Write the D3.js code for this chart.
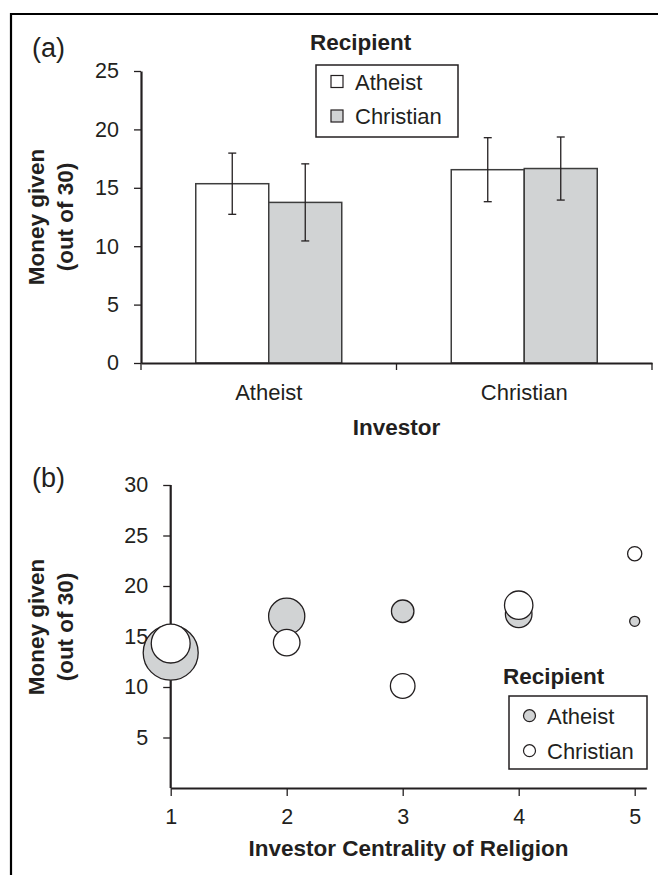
<!DOCTYPE html>
<html>
<head>
<meta charset="utf-8">
<script src="https://cdn.jsdelivr.net/npm/d3@7"></script>
<style>
  body { margin: 0; background: #fff; }
  text { font-family: "Liberation Sans", Arial, sans-serif; fill: #231f20; }
</style>
</head>
<body>
<div id="chart"></div>
<script>
// Panel (a): money given by investor / recipient religion
const investors = ['Atheist', 'Christian'];
const recipients = ['Atheist', 'Christian'];
const barMeans = [[15.35, 13.75], [16.55, 16.65]];   // [investor][recipient]
const barErrors = [[2.62, 3.30], [2.74, 2.70]];
const ticksA = [0, 5, 10, 15, 20, 25];

// Panel (b): money given by investor centrality of religion
const centrality = [1, 2, 3, 4, 5];
const givenAtheist = [13.4, 17.0, 17.5, 17.2, 16.5];
const givenChristian = [14.3, 14.4, 10.1, 18.1, 23.2];
const nAtheist = [30, 13, 5, 7, 1];
const nChristian = [15, 7, 6, 8, 2];
const ticksB = [5, 10, 15, 20, 25, 30];

const width = 658, height = 875;
const ink = '#231f20';
const grey = '#d1d3d4';
const fills = {Atheist: '#ffffff', Christian: grey};
const fs = 22, fsBold = 22.5, fsTick = 21.5;

const svg = d3.select('#chart').append('svg')
  .attr('width', width).attr('height', height);

// frame lines (top and left)
svg.append('path')
  .attr('d', `M${width},14H11V${height}`)
  .attr('fill', 'none').attr('stroke', '#000').attr('stroke-width', 2.2);

function styleAxis(g) {
  g.select('.domain').attr('stroke', ink).attr('stroke-width', 2.2);
  g.selectAll('.tick line').attr('stroke', ink).attr('stroke-width', 1.3);
  g.selectAll('.tick text').attr('font-size', fsTick).attr('fill', ink)
    .attr('font-family', '"Liberation Sans", Arial, sans-serif');
}

function yLabel(cy) {
  const t = svg.append('g').attr('font-weight', 'bold').attr('font-size', fsBold);
  t.append('text').attr('transform', `translate(44,${cy}) rotate(-90)`)
    .attr('text-anchor', 'middle').text('Money given');
  t.append('text').attr('transform', `translate(73,${cy}) rotate(-90)`)
    .attr('text-anchor', 'middle').text('(out of 30)');
}

// ---------- Panel (a) ----------
const xA = d3.scaleBand().domain(investors).range([141, 652]).padding(0);
const xIn = d3.scaleBand().domain(recipients).range([0, xA.bandwidth()])
  .paddingInner(0).paddingOuter(0.75);
const yA = d3.scaleLinear().domain([0, 25]).range([363, 71]);

svg.append('text').attr('x', 32).attr('y', 57).attr('font-size', 27).text('(a)');

const barData = [];
investors.forEach((inv, i) => recipients.forEach((rec, j) => {
  barData.push({inv, rec, mean: barMeans[i][j], se: barErrors[i][j]});
}));

svg.append('g').selectAll('rect')
  .data(barData).enter().append('rect')
  .attr('x', d => xA(d.inv) + xIn(d.rec))
  .attr('y', d => yA(d.mean))
  .attr('width', xIn.bandwidth())
  .attr('height', d => yA(0) - yA(d.mean))
  .attr('fill', d => fills[d.rec])
  .attr('stroke', '#3d3d3d').attr('stroke-width', 1.5);

const err = svg.append('g').attr('stroke', ink).attr('stroke-width', 1.3);
barData.forEach(d => {
  const cx = xA(d.inv) + xIn(d.rec) + xIn.bandwidth() / 2;
  err.append('line').attr('x1', cx).attr('x2', cx)
    .attr('y1', yA(d.mean - d.se)).attr('y2', yA(d.mean + d.se));
  [d.mean - d.se, d.mean + d.se].forEach(v => {
    err.append('line').attr('x1', cx - 4).attr('x2', cx + 4)
      .attr('y1', yA(v)).attr('y2', yA(v));
  });
});

svg.append('g').attr('transform', `translate(${xA.range()[0]},0)`)
  .call(d3.axisLeft(yA).tickValues(ticksA).tickSize(7).tickPadding(15).tickSizeOuter(0))
  .call(styleAxis);

const xAxisA = svg.append('g').attr('transform', `translate(0,${yA(0)})`)
  .call(d3.axisBottom(xA).tickSize(0).tickPadding(21).tickSizeOuter(0))
  .call(styleAxis);
xAxisA.selectAll('.tick text').attr('font-size', fs);
// category boundary ticks
const edges = [xA.range()[0]].concat(investors.map(d => xA(d) + xA.bandwidth()));
xAxisA.selectAll('.edge').data(edges).enter().append('line')
  .attr('x1', d => d).attr('x2', d => d).attr('y1', 0).attr('y2', 7)
  .attr('stroke', ink).attr('stroke-width', 1.3);

svg.append('text').attr('x', (xA.range()[0] + xA.range()[1]) / 2).attr('y', 435)
  .attr('text-anchor', 'middle').attr('font-weight', 'bold').attr('font-size', fsBold)
  .text('Investor');

yLabel((yA(0) + yA(25)) / 2);

// legend (a)
const legA = svg.append('g');
legA.append('text').attr('x', 310).attr('y', 50).attr('font-weight', 'bold')
  .attr('font-size', fsBold).text('Recipient');
legA.append('rect').attr('x', 316).attr('y', 65).attr('width', 142).attr('height', 72)
  .attr('fill', '#fff').attr('stroke', ink).attr('stroke-width', 1.5);
recipients.forEach((r, i) => {
  legA.append('rect').attr('x', 331).attr('y', 75.5 + i * 34.5).attr('width', 12).attr('height', 12)
    .attr('fill', fills[r]).attr('stroke', ink).attr('stroke-width', 1.2);
  legA.append('text').attr('x', 355).attr('y', 89.5 + i * 34.5).attr('font-size', fs).text(r);
});

// ---------- Panel (b) ----------
const xB = d3.scaleLinear().domain([1, 5.1]).range([170.7, 646.3]);
const yB = d3.scaleLinear().domain([0, 30]).range([788, 485]);
const rB = d3.scaleSqrt().domain([0, 30]).range([0, 27.5]);

svg.append('text').attr('x', 32).attr('y', 487).attr('font-size', 27).text('(b)');

svg.append('g').attr('transform', `translate(${xB(1)},0)`)
  .call(d3.axisLeft(yB).tickValues(ticksB).tickSize(7.5).tickPadding(15).tickSizeOuter(0))
  .call(styleAxis)
  .select('.domain').attr('d', `M0,${yB(30)}V${yB(0)}`);

svg.append('g').attr('transform', `translate(0,${yB(0)})`)
  .call(d3.axisBottom(xB).tickValues(centrality).tickFormat(d3.format('d'))
    .tickSize(8).tickPadding(13).tickSizeOuter(0))
  .call(styleAxis);

const bubbles = [];
centrality.forEach((c, i) => bubbles.push({c, v: givenAtheist[i], n: nAtheist[i], rec: 'Atheist'}));
centrality.forEach((c, i) => bubbles.push({c, v: givenChristian[i], n: nChristian[i], rec: 'Christian'}));

svg.append('g').selectAll('circle')
  .data(bubbles).enter().append('circle')
  .attr('cx', d => xB(d.c))
  .attr('cy', d => yB(d.v))
  .attr('r', d => rB(d.n))
  .attr('fill', d => d.rec === 'Atheist' ? grey : '#fff')
  .attr('stroke', ink).attr('stroke-width', 1.3);

svg.append('text').attr('x', (xB(1) + xB(5.1)) / 2).attr('y', 856)
  .attr('text-anchor', 'middle').attr('font-weight', 'bold').attr('font-size', fsBold)
  .text('Investor Centrality of Religion');

yLabel(627);

// legend (b)
const legB = svg.append('g');
legB.append('text').attr('x', 503).attr('y', 684).attr('font-weight', 'bold')
  .attr('font-size', fsBold).text('Recipient');
legB.append('rect').attr('x', 509).attr('y', 696).attr('width', 138).attr('height', 73)
  .attr('fill', '#fff').attr('stroke', ink).attr('stroke-width', 1.5);
recipients.forEach((r, i) => {
  legB.append('circle').attr('cx', 529.5).attr('cy', 715.7 + i * 35).attr('r', 6)
    .attr('fill', r === 'Atheist' ? grey : '#fff').attr('stroke', ink).attr('stroke-width', 1.2);
  legB.append('text').attr('x', 547).attr('y', 723.5 + i * 35).attr('font-size', fs).text(r);
});
</script>
</body>
</html>
